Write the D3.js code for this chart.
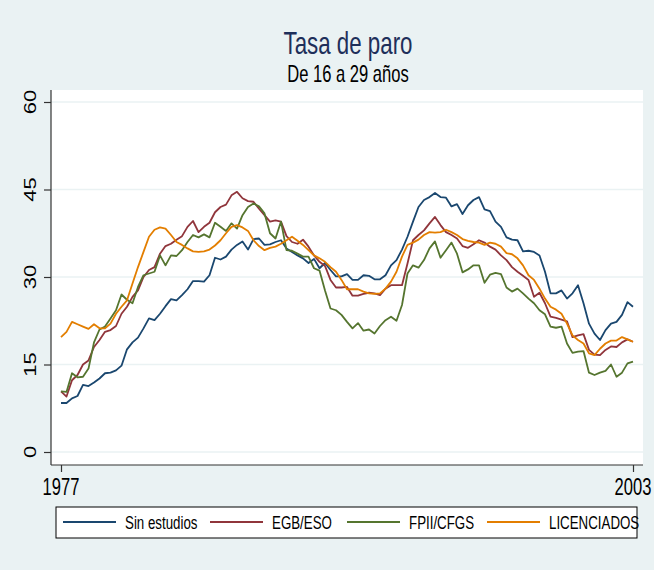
<!DOCTYPE html>
<html>
<head>
<meta charset="utf-8">
<script src="https://cdn.jsdelivr.net/npm/d3@7"></script>
<style>
  body { margin: 0; background: #fff; }
  text { font-family: "Liberation Sans", Arial, sans-serif; }
</style>
</head>
<body>
<svg width="654" height="570"></svg>
<script>
// quarterly series, 1977Q1 .. 2003Q1
const firstYear = 1977;
const tickYears = [1977, 2003];
const yTicks = [0, 15, 30, 45, 60];
const seriesNames = ['Sin estudios', 'EGB/ESO', 'FPII/CFGS', 'LICENCIADOS'];
const seriesColors = ['#1a476f', '#90353b', '#55752f', '#e37e00'];

const sinEstudios = [
  8.4, 8.4, 9.2, 9.6, 11.5, 11.3, 11.9, 12.6, 13.5, 13.6, 14.0, 14.8, 17.6, 18.8, 19.6, 21.2, 22.9, 22.6, 23.7, 25.0, 26.2,
  26.0, 26.9, 27.9, 29.3, 29.3, 29.2, 30.3, 33.3, 33.0, 33.5, 34.7, 35.5, 36.1, 34.7, 36.5, 36.6, 35.5, 35.6, 36.0, 36.3, 34.9,
  34.3, 33.7, 33.2, 32.4, 33.1, 31.5, 32.4, 31.2, 30.1, 30.1, 30.5, 29.5, 29.5, 30.3, 30.2, 29.6, 29.6, 30.3, 32.0, 32.9, 34.7,
  36.9, 39.5, 42.0, 43.2, 43.7, 44.4, 43.7, 43.6, 42.1, 42.5, 40.8, 42.3, 43.2, 43.7, 41.6, 41.3, 39.5, 38.6, 36.8, 36.4,
  36.3, 34.4, 34.5, 34.3, 33.7, 30.9, 27.2, 27.2, 27.7, 26.3, 27.2, 28.6, 25.5, 22.0, 20.3, 19.2, 20.9, 22.0, 22.3, 23.5, 25.7, 24.9
];
const egbEso = [
  10.4, 9.5, 12.3, 13.2, 15.0, 15.7, 18.0, 19.2, 20.6, 20.9, 21.6, 23.7, 24.9, 26.6, 27.7, 30.0, 31.2, 31.7, 34.0, 35.3, 35.7,
  36.4, 37.0, 38.6, 39.6, 37.7, 38.6, 39.3, 41.1, 42.0, 42.4, 44.0, 44.6, 43.5, 43.0, 42.9, 41.7, 40.6, 39.5, 39.7, 39.5, 37.0,
  36.0, 35.7, 36.4, 35.2, 33.7, 32.6, 31.9, 29.5, 28.2, 28.2, 28.3, 26.8, 26.8, 27.1, 27.3, 27.2, 26.9, 28.0, 28.6, 28.6, 28.6,
  32.3, 36.3, 37.2, 38.0, 39.2, 40.3, 38.9, 37.7, 37.2, 36.6, 35.3, 35.0, 35.6, 36.3, 35.9, 35.2, 34.7, 33.7, 32.9, 31.7,
  30.9, 30.2, 29.5, 26.6, 27.3, 25.5, 23.2, 23.0, 22.7, 22.4, 19.7, 20.0, 20.2, 17.5, 16.7, 16.6, 17.5, 18.1, 18.0, 18.8, 19.3, 18.9
];
const fpiiCfgs = [
  10.4, 10.3, 13.5, 12.8, 12.9, 14.3, 18.8, 21.0, 21.5, 22.9, 24.3, 27.0, 26.1, 25.5, 28.3, 30.3, 30.6, 30.9, 33.7, 32.0, 33.7,
  33.6, 34.6, 36.0, 37.2, 36.8, 37.3, 36.8, 39.3, 38.6, 37.9, 39.2, 38.3, 40.6, 42.0, 42.6, 42.1, 40.9, 37.5, 36.6, 39.5, 34.6,
  34.5, 34.0, 33.5, 33.5, 31.5, 31.1, 27.7, 24.6, 24.3, 23.5, 22.3, 21.2, 22.1, 20.8, 21.0, 20.3, 21.6, 22.6, 23.2, 22.5, 25.2,
  30.6, 32.0, 31.6, 32.9, 34.9, 36.1, 33.3, 34.6, 35.9, 34.0, 30.8, 31.3, 32.0, 32.0, 29.0, 30.4, 30.7, 30.5, 28.2, 27.5,
  28.0, 27.2, 26.3, 25.5, 24.3, 23.6, 21.5, 21.3, 21.5, 18.6, 17.0, 17.2, 17.3, 13.6, 13.2, 13.6, 13.9, 15.0, 12.9, 13.6, 15.2, 15.5
];
const licenciados = [
  19.7, 20.6, 22.3, 21.9, 21.5, 21.1, 21.9, 21.2, 21.2, 22.0, 23.7, 24.9, 26.0, 28.9, 31.7, 34.3, 36.9, 38.1, 38.5, 38.3, 37.2,
  36.0, 35.5, 34.9, 34.4, 34.3, 34.4, 34.7, 35.4, 36.3, 37.5, 38.6, 38.9, 38.5, 37.9, 36.3, 35.3, 34.6, 35.0, 35.2, 35.7, 36.3,
  36.9, 36.2, 35.5, 34.6, 33.7, 33.2, 32.6, 31.7, 30.9, 29.5, 27.9, 27.9, 27.9, 27.5, 27.2, 27.1, 27.2, 28.0, 29.2, 30.9, 33.5,
  35.5, 35.9, 36.4, 37.2, 37.7, 37.6, 37.7, 38.1, 37.7, 37.2, 36.5, 36.2, 36.0, 35.9, 35.5, 35.9, 35.7, 35.2, 34.1, 33.9,
  33.2, 32.0, 30.3, 29.5, 28.0, 26.3, 24.9, 24.4, 23.7, 22.0, 20.0, 19.2, 18.6, 16.9, 16.6, 17.7, 18.6, 19.1, 19.1, 19.7, 19.3, 18.9
];

const allSeries = [sinEstudios, egbEso, fpiiCfgs, licenciados];

const svg = d3.select('svg');
const width = +svg.attr('width');
const height = +svg.attr('height');
const sx = 0.72; // the reference text is squeezed horizontally

// places text with the horizontal squeeze
const label = (g, x, y, txt, size, anchor, rot) => g.append('text')
  .attr('transform', `translate(${x},${y}) scale(${sx},1)` + (rot ? ` rotate(${rot})` : ''))
  .attr('text-anchor', anchor)
  .attr('font-size', size)
  .text(txt);

svg.append('rect').attr('width', width).attr('height', height).attr('fill', '#eaf2f3');

const plot = { left: 51, right: 643, top: 90, bottom: 465 };
svg.append('rect')
  .attr('x', plot.left).attr('y', plot.top)
  .attr('width', plot.right - plot.left).attr('height', plot.bottom - plot.top)
  .attr('fill', '#fff');

const xScale = d3.scaleLinear().domain(d3.extent(tickYears)).range([61, 633]);
const yScale = d3.scaleLinear().domain([0, 60]).range([452, 102]);

// grid
svg.append('g').selectAll('line').data(yTicks).enter().append('line')
  .attr('x1', plot.left).attr('x2', plot.right)
  .attr('y1', d => yScale(d)).attr('y2', d => yScale(d))
  .attr('stroke', '#eaf2f3').attr('stroke-width', 1.5);

// y axis
const yAxisG = svg.append('g')
  .attr('transform', `translate(${plot.left},0)`)
  .call(d3.axisLeft(yScale).tickValues(yTicks).tickSize(7).tickFormat(''));
yAxisG.select('.domain').attr('d', `M0,${plot.top}V${plot.bottom}`).attr('stroke', '#333').attr('stroke-width', 1.2);
yAxisG.selectAll('.tick line').attr('stroke', '#333').attr('stroke-width', 1.2);
yTicks.forEach(t => label(svg, 36, yScale(t), String(t), 22, 'middle', -90));

// x axis
const xAxisG = svg.append('g')
  .attr('transform', `translate(0,${plot.bottom})`)
  .call(d3.axisBottom(xScale).tickValues(tickYears).tickSize(7).tickFormat(''));
xAxisG.select('.domain').attr('d', `M${plot.left},0H${plot.right}`).attr('stroke', '#333').attr('stroke-width', 1.2);
xAxisG.selectAll('.tick line').attr('stroke', '#333').attr('stroke-width', 1.2);
tickYears.forEach(t => label(svg, xScale(t), 495, String(t), 23, 'middle'));

// lines
const line = d3.line()
  .x((d, i) => xScale(firstYear + i / 4))
  .y(d => yScale(d));

svg.append('g').selectAll('path').data(allSeries).enter().append('path')
  .attr('d', line)
  .attr('fill', 'none')
  .attr('stroke', (d, i) => seriesColors[i])
  .attr('stroke-width', 1.8)
  .attr('stroke-linejoin', 'round');

// titles
label(svg, 348, 54, 'Tasa de paro', 31, 'middle').attr('fill', '#1e2f5a');
label(svg, 348, 82, 'De 16 a 29 años', 23, 'middle').attr('fill', '#000');

// legend
svg.append('rect')
  .attr('x', 56).attr('y', 507).attr('width', 581).attr('height', 31)
  .attr('fill', '#fff').attr('stroke', '#000').attr('stroke-width', 1);
const legendX = [63, 210, 347, 487];
seriesNames.forEach((name, i) => {
  svg.append('line')
    .attr('x1', legendX[i]).attr('x2', legendX[i] + 53)
    .attr('y1', 522).attr('y2', 522)
    .attr('stroke', seriesColors[i]).attr('stroke-width', 1.8);
  label(svg, legendX[i] + 62, 529, name, 18.5, 'start');
});
</script>
</body>
</html>
